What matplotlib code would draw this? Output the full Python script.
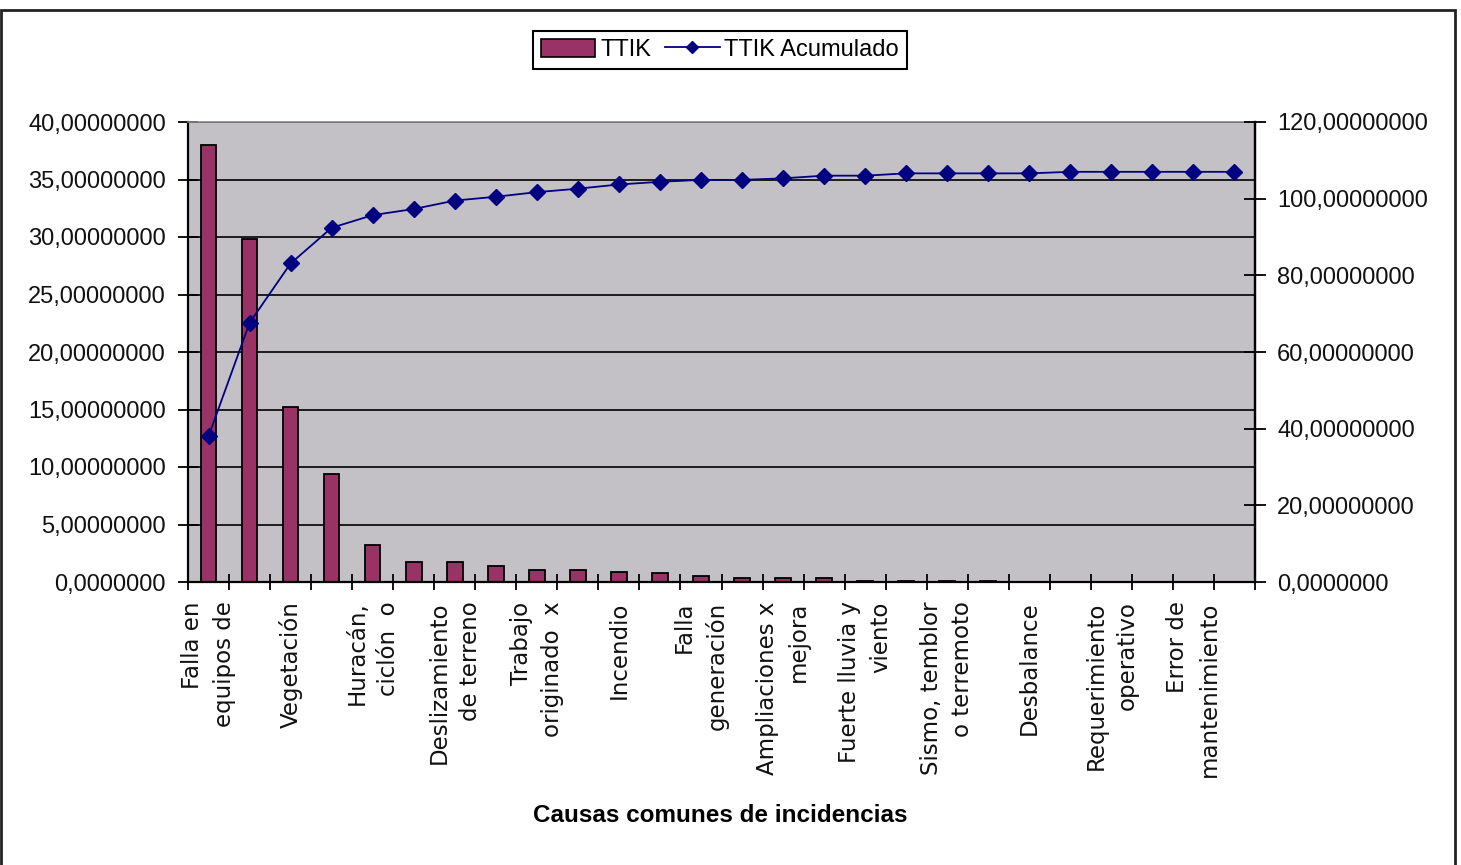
import matplotlib.pyplot as plt
from matplotlib.patches import Rectangle, Patch
from matplotlib.lines import Line2D

plt.rcParams['font.family'] = ['Liberation Sans', 'DejaVu Sans']

# TTIK per cause (left axis) and the running total (right axis)
ttik = [38.0, 29.8, 15.25, 9.35, 3.2, 1.75, 1.75, 1.4, 1.05, 1.05,
        0.9, 0.75, 0.55, 0.37, 0.37, 0.37, 0.12, 0.1, 0.08, 0.08,
        0.0, 0.0, 0.0, 0.0, 0.0, 0.0]
ttik_acum = [38.0, 67.6, 83.1, 92.4, 95.7, 97.3, 99.5, 100.5, 101.7, 102.6,
             103.7, 104.4, 104.9, 104.9, 105.3, 106.0, 106.0, 106.6, 106.6, 106.6,
             106.6, 107.0, 107.0, 107.0, 107.0, 107.0]

# only every second cause gets a label on the axis
shown_labels = ["Falla en\nequipos de", "Vegetación", "Huracán,\nciclón  o",
                "Deslizamiento\nde terreno", "Trabajo\noriginado  x", "Incendio",
                "Falla\ngeneración", "Ampliaciones x\nmejora", "Fuerte lluvia y\nviento",
                "Sismo, temblor\no terremoto", "Desbalance", "Requerimiento\noperativo",
                "Error de\nmantenimiento"]

left_ticks = [0, 5, 10, 15, 20, 25, 30, 35, 40]
left_ticklabels = ["0,0000000", "5,00000000", "10,00000000", "15,00000000", "20,00000000",
                   "25,00000000", "30,00000000", "35,00000000", "40,00000000"]
right_ticks = [0, 20, 40, 60, 80, 100, 120]
right_ticklabels = ["0,0000000", "20,00000000", "40,00000000", "60,00000000",
                    "80,00000000", "100,00000000", "120,00000000"]

bar_color = '#993366'
line_color = '#000080'

fig = plt.figure(figsize=(14.61, 8.65), dpi=100)
ax = fig.add_axes([188 / 1461, 1 - 582 / 865, 1067 / 1461, 460 / 865])
ax.set_facecolor('#C3C1C5')

x = list(range(len(ttik)))
ax.bar(x, ttik, width=0.38, color=bar_color, edgecolor='black', linewidth=1.3, zorder=2)

ax.set_xlim(-0.5, len(ttik) - 0.5)
ax.set_ylim(0, 40)
ax.set_yticks(left_ticks)
ax.set_yticklabels(left_ticklabels)
ax.yaxis.grid(True, color='black', linewidth=1.2)
ax.set_axisbelow(True)

# category labels at centres, tick marks on the boundaries
ax.set_xticks(x[::2])
ax.set_xticklabels(shown_labels, rotation=90, va='top', ha='center',
                   multialignment='right', fontsize=16.5, color='#111111',
                   family='DejaVu Sans', linespacing=1.45)
ax.tick_params(axis='x', which='major', length=0, pad=14)
ax.set_xticks([i - 0.5 for i in range(len(ttik) + 1)], minor=True)
ax.tick_params(axis='x', which='minor', direction='inout', length=11, width=1.3)
ax.tick_params(axis='y', direction='inout', length=14, width=1.3, pad=9,
               labelsize=17, labelcolor='#111111')

for side in ['left', 'bottom']:
    ax.spines[side].set_linewidth(1.6)
ax.spines['top'].set_color('#8a8a8a')
ax.spines['top'].set_linewidth(1.2)
ax.spines['right'].set_linewidth(1.6)

ax2 = ax.twinx()
ax2.plot(x, ttik_acum, color=line_color, linewidth=1.3, marker='D',
         markersize=8, markerfacecolor=line_color, markeredgecolor=line_color, zorder=3)
ax2.set_ylim(0, 120)
ax2.set_yticks(right_ticks)
ax2.set_yticklabels(right_ticklabels)
ax2.tick_params(axis='y', direction='inout', length=16, width=1.3, pad=8,
                labelsize=17, labelcolor='#111111')
ax2.spines['right'].set_linewidth(1.6)
ax2.spines['top'].set_visible(False)
ax2.spines['left'].set_visible(False)
ax2.spines['bottom'].set_visible(False)

fig.text(720 / 1461, 1 - 815 / 865, "Causas comunes de incidencias", ha='center', va='center',
         fontsize=17.5, fontweight='bold')

handles = [Patch(facecolor=bar_color, edgecolor='black', linewidth=1.2),
           Line2D([], [], color=line_color, linewidth=1.3, marker='D', markersize=6)]
leg = fig.legend(handles, ["TTIK", "TTIK Acumulado"], loc='center',
                 bbox_to_anchor=(720 / 1461, 1 - 50 / 865), ncol=2, fontsize=17,
                 frameon=True, fancybox=False, edgecolor='black', framealpha=1,
                 handlelength=2.3, handleheight=0.8, handletextpad=0.2,
                 columnspacing=0.6, borderpad=0.35)
leg.get_frame().set_linewidth(1.5)

# outer chart border
fig.patches.append(Rectangle((1 / 1461, -0.02), 1454 / 1461, 1 - 10 / 865 + 0.02,
                             transform=fig.transFigure, fill=False,
                             edgecolor='#222222', linewidth=2))

fig.savefig('out.png', dpi=100)
